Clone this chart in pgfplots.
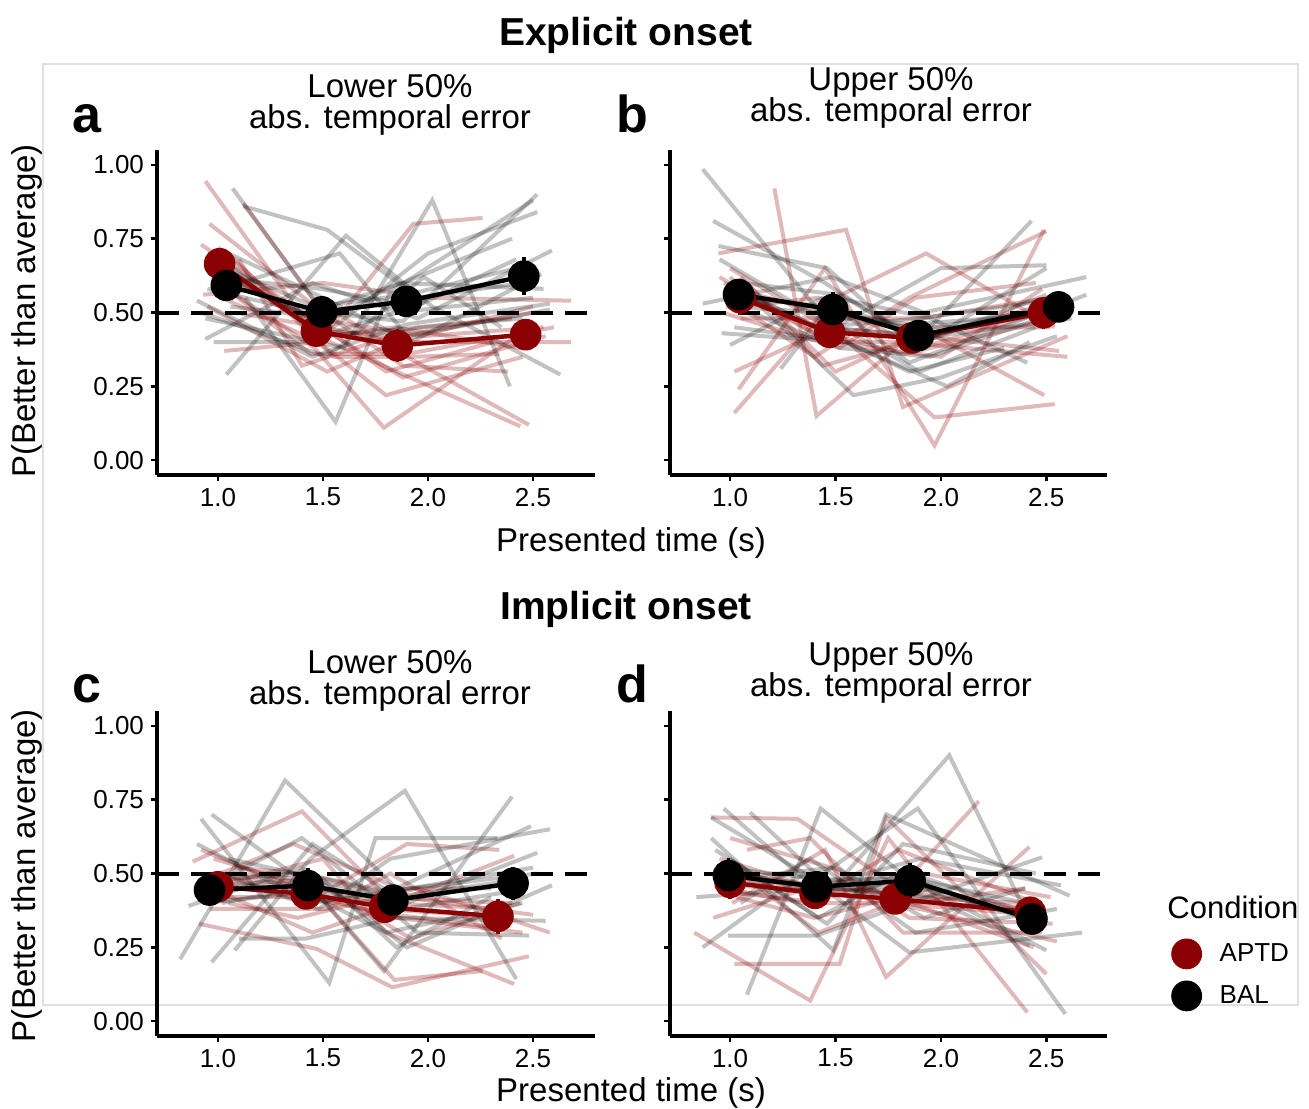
\documentclass[border=0pt]{standalone}
\usepackage{pgfplots}
\pgfplotsset{compat=1.18}
\usepackage{fontspec}
\setmainfont{Liberation Sans}
\definecolor{aptd}{RGB}{139,0,0}
\pgfplotsset{
  panel/.style={scale only axis, height=162.5pt, ymin=-0.05, ymax=1.05,
    axis x line*=bottom, axis y line*=left,
    axis line style={-, line width=1.6pt, black},
    tick align=outside, major tick length=3pt, tick style={line width=1.2pt, black},
    xtick={1,1.5,2,2.5}, xticklabels={1.0,1.5,2.0,2.5},
    ytick={0,0.25,0.5,0.75,1},
    ticklabel style={font=\fontsize{13}{15}\selectfont, text=black}},
  indR/.style={aptd, opacity=0.27, line width=2pt, forget plot},
  indG/.style={black, opacity=0.24, line width=2pt, forget plot},
  hline/.style={black, line width=2pt, dash pattern=on 11pt off 6pt, forget plot},
  meanR/.style={aptd, line width=2.2pt, mark=*, mark size=6.8pt, forget plot,
    error bars/y dir=both, error bars/y explicit, error bars/error mark=none,
    error bars/error bar style={line width=1.8pt, aptd}},
  meanB/.style={black, line width=2.2pt, mark=*, mark size=6.8pt, forget plot,
    error bars/y dir=both, error bars/y explicit, error bars/error mark=none,
    error bars/error bar style={line width=1.8pt, black}},
}
\newcommand{\R}[1]{\addplot[indR] coordinates {#1};}
\newcommand{\G}[1]{\addplot[indG] coordinates {#1};}

\begin{document}
\begin{tikzpicture}
\begin{scope}[x=0.5pt,y=-0.5pt]
\useasboundingbox (0,0) rectangle (1309,1108);
\draw[black!12, line width=0.6pt] (43,64) rectangle (1298,1005);
\end{scope}

% a: explicit onset, lower 50%
\begin{axis}[panel, at={(78.5pt,-237.5pt)}, anchor=south west, width=219pt,
  xmin=0.71, xmax=2.795, yticklabels={0.00,0.25,0.50,0.75,1.00}]
\R{(0.94,0.945) (1.47,0.42) (1.85,0.30) (2.44,0.115)}
\R{(1.12,0.87) (1.45,0.55) (1.90,0.35) (2.48,0.12)}
\R{(0.92,0.73) (1.40,0.50) (1.80,0.30) (2.31,0.40)}
\R{(0.93,0.56) (1.50,0.60) (2.00,0.55) (2.68,0.54)}
\R{(1.03,0.37) (1.48,0.40) (1.93,0.80) (2.26,0.82)}
\R{(1.00,0.60) (1.46,0.38) (1.79,0.11) (2.42,0.42)}
\R{(1.08,0.50) (1.50,0.45) (1.85,0.40) (2.68,0.40)}
\R{(0.98,0.65) (1.42,0.48) (1.88,0.28) (2.56,0.42)}
\R{(1.05,0.70) (1.55,0.35) (1.92,0.35) (2.34,0.36)}
\R{(0.95,0.52) (1.52,0.30) (1.85,0.40) (2.50,0.52)}
\R{(1.10,0.68) (1.40,0.32) (1.95,0.45) (2.40,0.48)}
\R{(1.02,0.55) (1.48,0.40) (1.80,0.22) (2.45,0.35)}
\R{(0.96,0.80) (1.50,0.50) (1.88,0.32) (2.38,0.30)}
\R{(1.06,0.62) (1.45,0.48) (1.98,0.42) (2.55,0.45)}
\R{(1.00,0.72) (1.46,0.44) (1.86,0.42) (2.50,0.50)}
\R{(0.97,0.66) (1.52,0.42) (1.84,0.45) (2.44,0.38)}
\R{(1.04,0.58) (1.44,0.36) (1.90,0.36) (2.60,0.45)}
\G{(1.07,0.92) (1.50,0.50) (1.88,0.47) (2.52,0.90)}
\G{(1.12,0.86) (1.52,0.78) (1.95,0.55) (2.45,0.60)}
\G{(0.94,0.48) (1.60,0.38) (2.02,0.88) (2.39,0.25)}
\G{(1.13,0.55) (1.56,0.13) (1.82,0.57) (2.50,0.88)}
\G{(1.04,0.29) (1.61,0.76) (2.02,0.52) (2.63,0.29)}
\G{(0.90,0.54) (1.45,0.35) (1.90,0.46) (2.58,0.53)}
\G{(0.94,0.41) (1.45,0.60) (1.95,0.48) (2.59,0.71)}
\G{(0.98,0.40) (1.40,0.40) (1.85,0.50) (2.50,0.55)}
\G{(1.05,0.70) (1.50,0.55) (1.92,0.40) (2.54,0.63)}
\G{(1.02,0.62) (1.55,0.45) (2.00,0.70) (2.52,0.84)}
\G{(0.95,0.58) (1.43,0.50) (1.88,0.60) (2.40,0.75)}
\G{(1.08,0.65) (1.48,0.42) (1.98,0.45) (2.45,0.48)}
\G{(1.10,0.60) (1.58,0.70) (1.90,0.42) (2.58,0.51)}
\G{(0.92,0.50) (1.52,0.35) (1.98,0.62) (2.35,0.45)}
\G{(1.00,0.66) (1.46,0.52) (1.90,0.56) (2.48,0.66)}
\G{(1.06,0.52) (1.54,0.48) (1.86,0.60) (2.55,0.58)}
\G{(0.97,0.62) (1.49,0.58) (1.94,0.52) (2.42,0.68)}
\addplot[hline] coordinates {(0.71,0.5) (2.795,0.5)};
\addplot[meanR] coordinates {(1.008,0.665) +- (0,0.045) (1.469,0.437) +- (0,0.04) (1.854,0.388) +- (0,0.055) (2.465,0.425) +- (0,0.05)};
\addplot[meanB] coordinates {(1.04,0.592) +- (0,0.04) (1.495,0.502) +- (0,0.055) (1.897,0.538) +- (0,0.05) (2.456,0.623) +- (0,0.065)};
\end{axis}

% b: explicit onset, upper 50%
\begin{axis}[panel, at={(335pt,-237.5pt)}, anchor=south west, width=218.5pt,
  xmin=0.715, xmax=2.788, yticklabels={}]
\R{(1.21,0.92) (1.41,0.15) (1.90,0.45) (2.49,0.22)}
\R{(0.945,0.70) (1.55,0.78) (1.82,0.18) (2.60,0.42)}
\R{(1.02,0.16) (1.50,0.55) (1.93,0.70) (2.54,0.45)}
\R{(1.04,0.24) (1.45,0.65) (1.97,0.05) (2.49,0.78)}
\R{(1.02,0.30) (1.48,0.45) (1.97,0.145) (2.54,0.19)}
\R{(0.98,0.55) (1.40,0.35) (1.85,0.55) (2.50,0.775)}
\R{(1.05,0.62) (1.50,0.30) (1.80,0.40) (2.60,0.35)}
\R{(1.00,0.65) (1.46,0.45) (1.90,0.42) (2.56,0.37)}
\R{(0.96,0.50) (1.52,0.38) (1.88,0.55) (2.45,0.60)}
\R{(1.08,0.60) (1.44,0.32) (1.95,0.42) (2.40,0.50)}
\R{(1.02,0.58) (1.55,0.48) (1.85,0.45) (2.52,0.45)}
\R{(0.95,0.62) (1.47,0.40) (2.00,0.35) (2.48,0.58)}
\R{(1.06,0.52) (1.42,0.55) (1.90,0.38) (2.58,0.52)}
\R{(1.00,0.58) (1.48,0.40) (1.86,0.40) (2.46,0.52)}
\R{(1.05,0.48) (1.45,0.48) (1.90,0.48) (2.52,0.55)}
\R{(0.97,0.60) (1.50,0.42) (1.83,0.36) (2.55,0.48)}
\G{(0.87,0.985) (1.45,0.48) (1.90,0.30) (2.45,0.45)}
\G{(0.92,0.81) (1.45,0.60) (1.88,0.40) (2.43,0.81)}
\G{(0.945,0.725) (1.46,0.65) (1.88,0.38) (2.50,0.65)}
\G{(0.87,0.53) (1.48,0.62) (1.92,0.50) (2.69,0.62)}
\G{(0.96,0.43) (1.55,0.40) (2.03,0.25) (2.42,0.40)}
\G{(1.00,0.39) (1.44,0.55) (1.85,0.33) (2.69,0.56)}
\G{(1.24,0.31) (1.50,0.55) (1.95,0.48) (2.41,0.33)}
\G{(1.00,0.62) (1.585,0.22) (2.00,0.28) (2.55,0.42)}
\G{(1.05,0.57) (1.42,0.45) (1.90,0.48) (2.60,0.55)}
\G{(0.95,0.68) (1.50,0.45) (2.00,0.65) (2.50,0.66)}
\G{(1.10,0.50) (1.52,0.38) (1.95,0.35) (2.55,0.50)}
\G{(1.02,0.45) (1.55,0.40) (1.85,0.30) (2.30,0.38)}
\G{(0.98,0.58) (1.40,0.45) (1.98,0.42) (2.62,0.48)}
\G{(1.02,0.55) (1.48,0.52) (1.88,0.44) (2.58,0.52)}
\G{(1.06,0.60) (1.52,0.56) (1.92,0.40) (2.50,0.56)}
\G{(0.98,0.52) (1.45,0.50) (1.85,0.46) (2.62,0.50)}
\addplot[hline] coordinates {(0.715,0.5) (2.788,0.5)};
\addplot[meanR] coordinates {(1.047,0.55) +- (0,0.06) (1.472,0.433) +- (0,0.045) (1.862,0.414) +- (0,0.05) (2.487,0.499) +- (0,0.055)};
\addplot[meanB] coordinates {(1.04,0.561) +- (0,0.05) (1.487,0.510) +- (0,0.06) (1.894,0.422) +- (0,0.04) (2.558,0.519) +- (0,0.045)};
\end{axis}

% c: implicit onset, lower 50%
\begin{axis}[panel, at={(78.5pt,-518pt)}, anchor=south west, width=219pt,
  xmin=0.71, xmax=2.795, yticklabels={0.00,0.25,0.50,0.75,1.00}]
\R{(0.88,0.54) (1.40,0.71) (1.83,0.40) (2.41,0.56)}
\R{(0.91,0.33) (1.47,0.245) (1.83,0.115) (2.48,0.22)}
\R{(0.98,0.55) (1.45,0.45) (1.84,0.14) (2.26,0.17)}
\R{(1.02,0.50) (1.42,0.40) (1.90,0.60) (2.34,0.58)}
\R{(0.95,0.45) (1.50,0.55) (1.80,0.30) (2.41,0.126)}
\R{(1.05,0.40) (1.38,0.35) (1.95,0.45) (2.58,0.30)}
\R{(0.92,0.58) (1.48,0.42) (1.85,0.35) (2.45,0.30)}
\R{(1.00,0.44) (1.45,0.30) (1.78,0.38) (2.40,0.35)}
\R{(1.08,0.52) (1.40,0.50) (1.88,0.42) (2.50,0.36)}
\R{(0.96,0.38) (1.52,0.38) (1.82,0.50) (2.35,0.28)}
\R{(1.03,0.50) (1.44,0.48) (1.92,0.28) (2.44,0.40)}
\R{(0.94,0.48) (1.36,0.60) (1.86,0.45) (2.30,0.45)}
\R{(0.99,0.46) (1.43,0.46) (1.80,0.40) (2.36,0.38)}
\R{(1.04,0.42) (1.40,0.42) (1.85,0.36) (2.28,0.32)}
\R{(0.96,0.50) (1.46,0.45) (1.78,0.42) (2.40,0.40)}
\G{(0.82,0.21) (1.32,0.815) (1.85,0.45) (2.49,0.66)}
\G{(0.97,0.20) (1.45,0.60) (1.90,0.40) (2.52,0.57)}
\G{(1.08,0.24) (1.44,0.55) (1.89,0.78) (2.42,0.143)}
\G{(0.92,0.685) (1.53,0.13) (1.75,0.62) (2.33,0.62)}
\G{(0.97,0.70) (1.45,0.45) (1.79,0.17) (2.40,0.76)}
\G{(1.10,0.28) (1.42,0.28) (1.85,0.35) (2.56,0.34)}
\G{(0.86,0.39) (1.40,0.52) (1.90,0.25) (2.59,0.46)}
\G{(1.00,0.50) (1.48,0.38) (1.82,0.55) (2.58,0.65)}
\G{(0.94,0.45) (1.40,0.62) (1.95,0.30) (2.48,0.29)}
\G{(1.05,0.55) (1.50,0.48) (1.85,0.25) (2.30,0.42)}
\G{(0.90,0.60) (1.45,0.40) (1.92,0.45) (2.50,0.52)}
\G{(1.02,0.40) (1.38,0.45) (1.80,0.30) (2.45,0.40)}
\G{(0.98,0.46) (1.43,0.48) (1.84,0.42) (2.44,0.48)}
\G{(0.94,0.40) (1.46,0.44) (1.88,0.38) (2.40,0.44)}
\G{(1.02,0.48) (1.40,0.50) (1.80,0.44) (2.52,0.50)}
\addplot[hline] coordinates {(0.71,0.5) (2.795,0.5)};
\addplot[meanR] coordinates {(1.0,0.455) +- (0,0.04) (1.42,0.431) +- (0,0.045) (1.794,0.386) +- (0,0.045) (2.333,0.355) +- (0,0.06)};
\addplot[meanB] coordinates {(0.96,0.444) +- (0,0.055) (1.429,0.459) +- (0,0.06) (1.833,0.41) +- (0,0.05) (2.405,0.467) +- (0,0.055)};
\end{axis}

% d: implicit onset, upper 50%
\begin{axis}[panel, at={(335pt,-518pt)}, anchor=south west, width=218.5pt,
  xmin=0.715, xmax=2.788, yticklabels={},
  legend style={at={(1.147,0.30)}, anchor=north west, draw=none, fill=none,
    font=\fontsize{13}{15}\selectfont, row sep=6pt, column sep=7pt, inner sep=0pt},
  legend cell align=left]
\R{(0.91,0.69) (1.32,0.685) (1.80,0.45) (2.18,0.745)}
\R{(0.83,0.30) (1.38,0.07) (1.75,0.62) (2.41,0.03)}
\R{(1.02,0.194) (1.52,0.194) (1.74,0.69) (2.50,0.16)}
\R{(1.01,0.40) (1.45,0.58) (1.74,0.15) (2.42,0.59)}
\R{(0.95,0.55) (1.40,0.45) (1.90,0.38) (2.55,0.27)}
\R{(1.00,0.62) (1.48,0.52) (1.85,0.35) (2.53,0.33)}
\R{(0.97,0.45) (1.35,0.40) (1.80,0.58) (2.45,0.40)}
\R{(1.05,0.50) (1.42,0.30) (1.95,0.45) (2.50,0.35)}
\R{(0.92,0.35) (1.50,0.48) (1.88,0.40) (2.40,0.45)}
\R{(1.08,0.58) (1.38,0.62) (1.82,0.30) (2.48,0.30)}
\R{(0.98,0.52) (1.46,0.42) (1.92,0.50) (2.52,0.42)}
\R{(1.03,0.42) (1.40,0.35) (1.78,0.42) (2.44,0.25)}
\R{(1.00,0.48) (1.40,0.45) (1.80,0.44) (2.42,0.38)}
\R{(0.96,0.44) (1.44,0.40) (1.76,0.40) (2.46,0.36)}
\R{(1.04,0.50) (1.37,0.46) (1.84,0.42) (2.40,0.40)}
\G{(1.08,0.09) (1.43,0.72) (1.85,0.48) (2.50,0.24)}
\G{(0.97,0.72) (1.45,0.42) (2.04,0.90) (2.45,0.30)}
\G{(0.91,0.69) (1.40,0.48) (1.89,0.72) (2.59,0.025)}
\G{(0.91,0.62) (1.49,0.24) (1.74,0.70) (2.61,0.425)}
\G{(0.87,0.25) (1.35,0.50) (1.85,0.233) (2.67,0.30)}
\G{(0.84,0.42) (1.40,0.45) (1.90,0.55) (2.57,0.46)}
\G{(0.99,0.29) (1.41,0.29) (1.85,0.40) (2.48,0.555)}
\G{(1.095,0.707) (1.48,0.45) (1.95,0.42) (2.42,0.256)}
\G{(1.00,0.55) (1.42,0.35) (1.80,0.50) (2.50,0.32)}
\G{(0.95,0.48) (1.50,0.52) (1.92,0.35) (2.40,0.45)}
\G{(1.05,0.40) (1.38,0.55) (1.88,0.30) (2.55,0.38)}
\G{(0.93,0.58) (1.46,0.33) (1.82,0.60) (2.45,0.50)}
\G{(0.98,0.50) (1.42,0.46) (1.86,0.50) (2.44,0.36)}
\G{(1.02,0.46) (1.40,0.44) (1.84,0.46) (2.48,0.34)}
\G{(0.96,0.52) (1.44,0.48) (1.88,0.48) (2.40,0.40)}
\addplot[hline] coordinates {(0.715,0.5) (2.788,0.5)};
\addplot[meanR] coordinates {(1.0,0.47) +- (0,0.055) (1.403,0.433) +- (0,0.05) (1.783,0.414) +- (0,0.04) (2.424,0.369) +- (0,0.045)};
\addplot[meanB] coordinates {(0.992,0.493) +- (0,0.06) (1.411,0.455) +- (0,0.055) (1.854,0.476) +- (0,0.06) (2.432,0.346) +- (0,0.05)};
\addlegendimage{only marks, mark=*, mark size=7.5pt, aptd}
\addlegendentry{APTD}
\addlegendimage{only marks, mark=*, mark size=7.5pt, black}
\addlegendentry{BAL}
\end{axis}

\begin{scope}[x=0.5pt,y=-0.5pt]
\node[anchor=base, font=\bfseries\fontsize{19.5}{23}\selectfont] at (626,45) {Explicit onset};
\node[anchor=base, font=\bfseries\fontsize{19.5}{23}\selectfont] at (626,619) {Implicit onset};
\node[anchor=base west, inner sep=0pt, font=\bfseries\fontsize{26}{30}\selectfont] at (72,132) {a};
\node[anchor=base west, inner sep=0pt, font=\bfseries\fontsize{26}{30}\selectfont] at (616,132) {b};
\node[anchor=base west, inner sep=0pt, font=\bfseries\fontsize{26}{30}\selectfont] at (72,702) {c};
\node[anchor=base west, inner sep=0pt, font=\bfseries\fontsize{26}{30}\selectfont] at (616,702) {d};
\begin{scope}[every node/.style={anchor=base, inner sep=0pt, font=\fontsize{16.5}{19}\selectfont}]
\node at (390,97) {Lower 50\%};
\node at (390,128) {abs. temporal error};
\node at (891,90) {Upper 50\%};
\node at (891,121) {abs. temporal error};
\node at (390,673) {Lower 50\%};
\node at (390,704) {abs. temporal error};
\node at (891,665) {Upper 50\%};
\node at (891,696) {abs. temporal error};
\node at (631,551) {Presented time (s)};
\node at (631,1101) {Presented time (s)};
\node[rotate=90, anchor=center] at (27,311) {P(Better than average)};
\node[rotate=90, anchor=center] at (27,876) {P(Better than average)};
\node[anchor=base west, font=\fontsize{15.5}{18}\selectfont] at (1167,918) {Condition};
\end{scope}
\end{scope}
\end{tikzpicture}
\end{document}
